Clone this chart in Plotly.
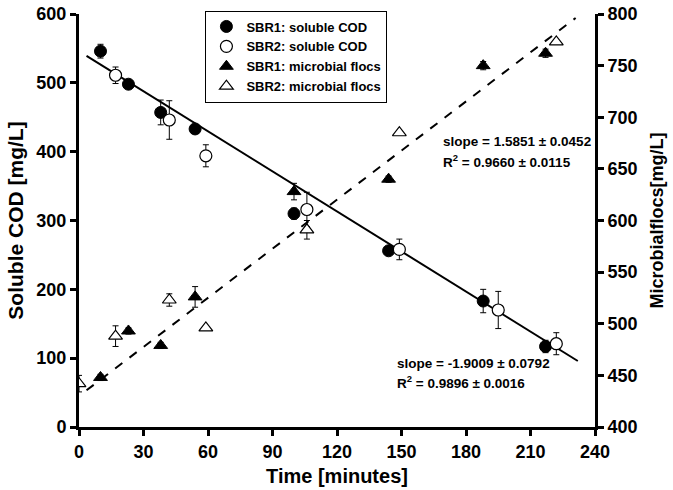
import plotly.graph_objects as go

# ---- data ----
t_cod1 = [10, 23, 38, 54, 100, 144, 188, 217]
cod1 = [546, 498, 457, 433, 310, 256, 183, 117]
cod1_err = [10, 5, 18, 5, 8, 5, 17, 9]

t_cod2 = [17, 42, 59, 106, 149, 195, 222]
cod2 = [511, 446, 394, 316, 258, 170, 121]
cod2_err = [12, 28, 16, 25, 15, 27, 16]

t_floc1 = [10, 23, 38, 54, 100, 144, 188, 217]
floc1 = [448, 493, 479, 526, 628, 640, 750, 762]
floc1_err = [3, 3, 3, 10, 8, 3, 4, 4]

t_floc2 = [0, 17, 42, 59, 106, 149, 222]
floc2 = [442, 488, 523, 496, 591, 685, 773]
floc2_err = [8, 10, 6, 0, 9, 0, 0]

cod_fit = dict(intercept=546, slope=-1.94, t0=3.5, t1=232)
floc_fit = dict(intercept=430, slope=1.5851, t0=3.5, t1=231)

x_ticks = [0, 30, 60, 90, 120, 150, 180, 210, 240]
y_ticks = [0, 100, 200, 300, 400, 500, 600]
y2_ticks = [400, 450, 500, 550, 600, 650, 700, 750, 800]

FONT = "Liberation Sans, Arial, sans-serif"
NARROW = "Liberation Sans Narrow, Liberation Sans, Arial, sans-serif"

fig = go.Figure()

def err(a):
    return dict(type="data", array=a, visible=True, color="black", thickness=1, width=3)

fig.add_trace(go.Scatter(
    x=[cod_fit["t0"], cod_fit["t1"]],
    y=[cod_fit["intercept"] + cod_fit["slope"] * cod_fit["t0"],
       cod_fit["intercept"] + cod_fit["slope"] * cod_fit["t1"]],
    mode="lines", line=dict(color="black", width=2), showlegend=False, hoverinfo="skip"))
fig.add_trace(go.Scatter(
    x=[floc_fit["t0"], floc_fit["t1"]],
    y=[floc_fit["intercept"] + floc_fit["slope"] * floc_fit["t0"],
       floc_fit["intercept"] + floc_fit["slope"] * floc_fit["t1"]],
    mode="lines", line=dict(color="black", width=2, dash="dash"), yaxis="y2",
    showlegend=False, hoverinfo="skip"))

fig.add_trace(go.Scatter(
    x=t_cod1, y=cod1, error_y=err(cod1_err), mode="markers",
    marker=dict(symbol="circle", size=12, color="black", line=dict(color="black", width=1)),
    name="SBR1: soluble COD"))
fig.add_trace(go.Scatter(
    x=t_cod2, y=cod2, error_y=err(cod2_err), mode="markers",
    marker=dict(symbol="circle", size=12, color="white", line=dict(color="black", width=1.2)),
    name="SBR2: soluble COD"))
fig.add_trace(go.Scatter(
    x=t_floc1, y=floc1, error_y=err(floc1_err), mode="markers", yaxis="y2",
    marker=dict(symbol="triangle-up", size=12, color="black", line=dict(color="black", width=1)),
    name="SBR1: microbial flocs"))
fig.add_trace(go.Scatter(
    x=t_floc2, y=floc2, error_y=err(floc2_err), mode="markers", yaxis="y2",
    marker=dict(symbol="triangle-up", size=12, color="white", line=dict(color="black", width=1.2)),
    name="SBR2: microbial flocs"))

ann_font = dict(family=FONT, size=13.5, color="black", weight="bold")
annotations = [
    dict(x=168.5, y=415, text="slope = 1.5851 ± 0.0452"),
    dict(x=168.5, y=387, text="R<sup>2</sup> = 0.9660 ± 0.0115"),
    dict(x=147, y=92, text="slope = -1.9009 ± 0.0792"),
    dict(x=147, y=65, text="R<sup>2</sup> = 0.9896 ± 0.0016"),
]
for a in annotations:
    fig.add_annotation(xref="x", yref="y", xanchor="left", yanchor="middle",
                       showarrow=False, font=ann_font, **a)

tickfont = dict(family=NARROW, size=18, color="black", weight="bold")
titlefont = dict(family=FONT, size=20, color="black", weight="bold")

fig.update_layout(
    width=673, height=490,
    margin=dict(l=79, r=78, t=13, b=63),
    paper_bgcolor="white", plot_bgcolor="white",
    showlegend=True,
    legend=dict(x=0.245, y=1.006, xanchor="left", yanchor="top",
                bordercolor="black", borderwidth=1, bgcolor="white",
                font=dict(family=FONT, size=13, color="black", weight="bold"),
                itemwidth=30, tracegroupgap=0),
    xaxis=dict(range=[0, 240], tickvals=x_ticks, showline=True, linecolor="black", linewidth=3,
               ticks="outside", ticklen=6, tickwidth=3, tickcolor="black", showgrid=False,
               zeroline=False, tickfont=tickfont, automargin=False,
               title=dict(text="Time [minutes]", font=titlefont, standoff=9)),
    yaxis=dict(range=[0, 600], tickvals=y_ticks, showline=True, linecolor="black", linewidth=3,
               ticks="outside", ticklen=6, tickwidth=3, tickcolor="black", showgrid=False,
               zeroline=False, tickfont=tickfont, ticklabelstandoff=0, automargin=False,
               title=dict(text="Soluble COD [mg/L]", font=dict(family=FONT, size=21, color="black", weight="bold"), standoff=8)),
    yaxis2=dict(range=[400, 800], tickvals=y2_ticks, overlaying="y", side="right",
                showline=True, linecolor="black", linewidth=3,
                ticks="outside", ticklen=6, tickwidth=3, tickcolor="black", showgrid=False,
                zeroline=False, tickfont=tickfont, automargin=False,
                title=dict(text="Microbialflocs[mg/L]", font=dict(family=FONT, size=18, color="black", weight="bold"), standoff=14)),
)

fig.write_html("out.html", config={"displayModeBar": False},
               post_script="document.body.style.margin='0';document.body.style.padding='0';")
